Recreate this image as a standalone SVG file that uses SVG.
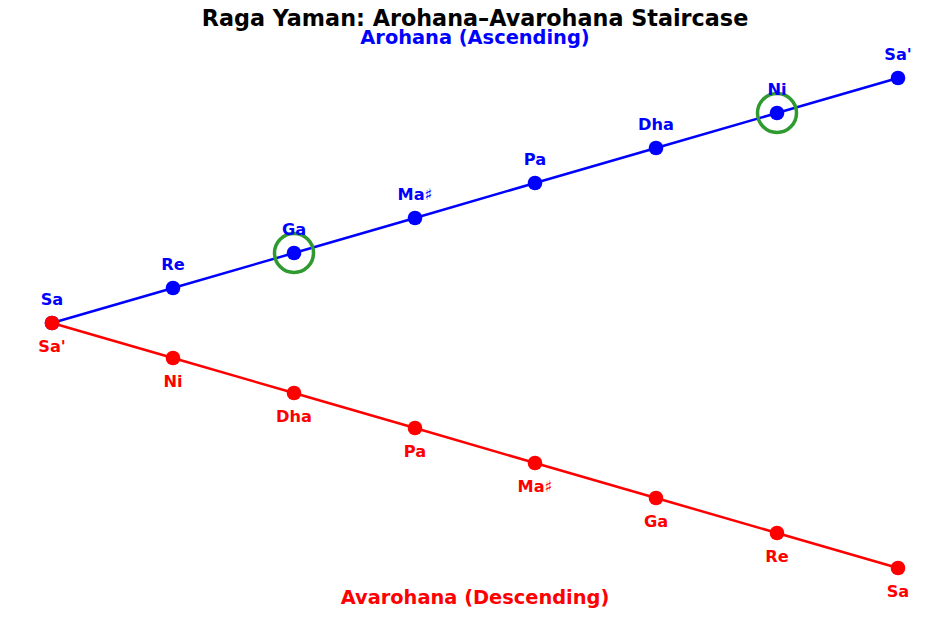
<svg xmlns="http://www.w3.org/2000/svg" width="950" height="617" viewBox="0 0 950 617">
<style>
text{font-family:"DejaVu Sans","Liberation Sans",sans-serif;font-weight:bold;text-anchor:middle}
.t{font-size:22.3px;fill:#000}
.st{font-size:19.4px}
.lb{font-size:16.2px}
.b{fill:#0000ff}
.r{fill:#ff0000}
.hl{fill:none;stroke:#2f9a2f;stroke-width:3.5}
</style>
<rect width="950" height="617" fill="#fff"/>
<text class="t" x="475" y="26">Raga Yaman: Arohana–Avarohana Staircase</text>
<text class="st b" x="475" y="44">Arohana (Ascending)</text>
<text class="st r" x="475" y="604">Avarohana (Descending)</text>
<g id="connectors">
<polyline points="52,323 173,288 294,253 415,218 535,183 656,148 777,113 898,78" fill="none" stroke="#0000ff" stroke-width="2.5"/>
<polyline points="52,323 173,358 294,393 415,428 535,463 656,498 777,533 898,568" fill="none" stroke="#ff0000" stroke-width="2.5"/>
</g>
<g id="asc-Sa"><circle class="b" cx="52" cy="323" r="7.3"/><text class="lb b" x="52" y="305">Sa</text></g>
<g id="asc-Re"><circle class="b" cx="173" cy="288" r="7.3"/><text class="lb b" x="173" y="270">Re</text></g>
<g id="asc-Ga"><circle class="hl" cx="294" cy="253" r="19.5"/><circle class="b" cx="294" cy="253" r="7.3"/><text class="lb b" x="294" y="235">Ga</text></g>
<g id="asc-Ma"><circle class="b" cx="415" cy="218" r="7.3"/><text class="lb b" x="415" y="200">Ma♯</text></g>
<g id="asc-Pa"><circle class="b" cx="535" cy="183" r="7.3"/><text class="lb b" x="535" y="165">Pa</text></g>
<g id="asc-Dha"><circle class="b" cx="656" cy="148" r="7.3"/><text class="lb b" x="656" y="130">Dha</text></g>
<g id="asc-Ni"><circle class="hl" cx="777" cy="113" r="19.5"/><circle class="b" cx="777" cy="113" r="7.3"/><text class="lb b" x="777" y="95">Ni</text></g>
<g id="asc-Sa2"><circle class="b" cx="898" cy="78" r="7.3"/><text class="lb b" x="898" y="60">Sa'</text></g>
<g id="desc-Sa2"><circle class="r" cx="52" cy="323" r="7.3"/><text class="lb r" x="52" y="352">Sa'</text></g>
<g id="desc-Ni"><circle class="r" cx="173" cy="358" r="7.3"/><text class="lb r" x="173" y="387">Ni</text></g>
<g id="desc-Dha"><circle class="r" cx="294" cy="393" r="7.3"/><text class="lb r" x="294" y="422">Dha</text></g>
<g id="desc-Pa"><circle class="r" cx="415" cy="428" r="7.3"/><text class="lb r" x="415" y="457">Pa</text></g>
<g id="desc-Ma"><circle class="r" cx="535" cy="463" r="7.3"/><text class="lb r" x="535" y="492">Ma♯</text></g>
<g id="desc-Ga"><circle class="r" cx="656" cy="498" r="7.3"/><text class="lb r" x="656" y="527">Ga</text></g>
<g id="desc-Re"><circle class="r" cx="777" cy="533" r="7.3"/><text class="lb r" x="777" y="562">Re</text></g>
<g id="desc-Sa"><circle class="r" cx="898" cy="568" r="7.3"/><text class="lb r" x="898" y="597">Sa</text></g>
</svg>
